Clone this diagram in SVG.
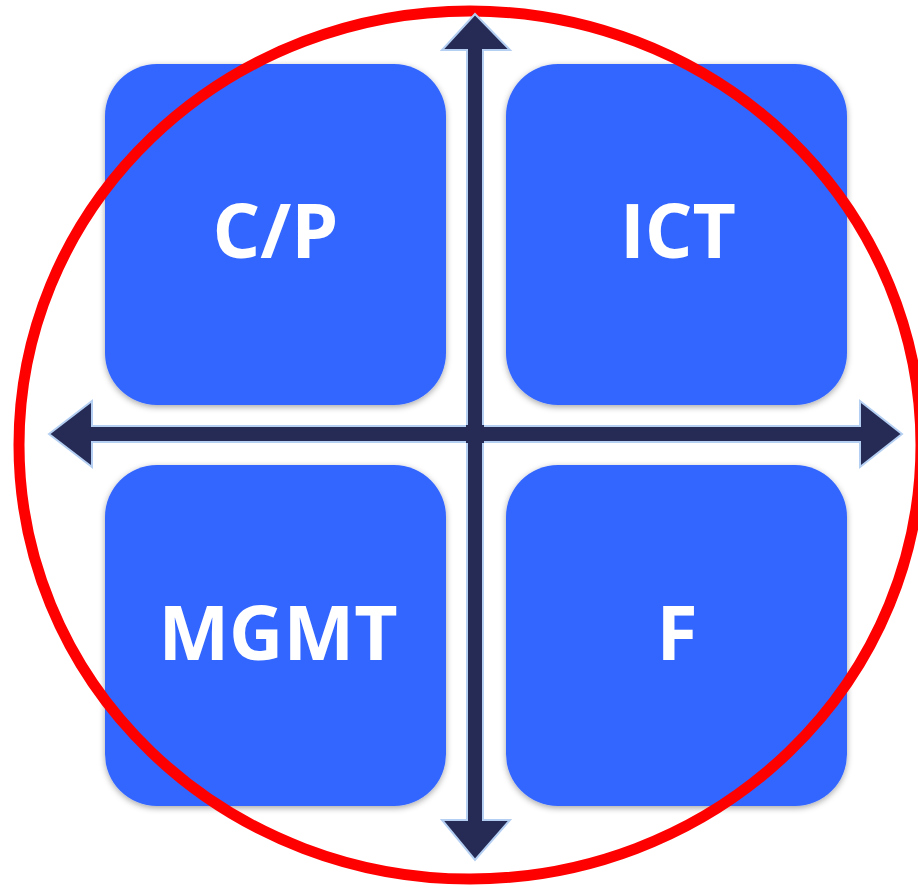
<svg xmlns="http://www.w3.org/2000/svg" width="918" height="888" viewBox="0 0 918 888">
  <style>
    .box { fill: #3366FF; filter: url(#shadow); }
    .label { fill: #FFFFFF; font-family: "Open Sans", "Liberation Sans", sans-serif; font-weight: bold; font-size: 75px; text-anchor: middle; }
    .ring { fill: none; stroke: #FF0000; stroke-width: 11; }
    .axis { fill: #262B55; stroke: #B4CFF2; stroke-width: 2; stroke-linejoin: miter; }
    .axis-fill { fill: #262B55; }
  </style>
  <defs>
    <filter id="shadow" x="-10%" y="-10%" width="120%" height="120%">
      <feDropShadow dx="0" dy="2" stdDeviation="3" flood-color="#000000" flood-opacity="0.35"/>
    </filter>
  </defs>
  <rect width="918" height="888" fill="#FFFFFF"/>

  <g id="node-cp">
    <rect class="box" x="105" y="64" width="341" height="341" rx="52" ry="52"/>
    <text class="label" x="275.5" y="258">C/P</text>
  </g>
  <g id="node-ict">
    <rect class="box" x="506" y="64" width="341" height="341" rx="52" ry="52"/>
    <text class="label" x="678" y="258">ICT</text>
  </g>
  <g id="node-mgmt">
    <rect class="box" x="105" y="465" width="341" height="341" rx="52" ry="52"/>
    <text class="label" x="278" y="660">MGMT</text>
  </g>
  <g id="node-f">
    <rect class="box" x="506" y="465" width="341" height="341" rx="52" ry="52"/>
    <text class="label" x="677" y="660">F</text>
  </g>

  <g id="boundary">
    <ellipse class="ring" cx="470" cy="445" rx="451" ry="434"/>
  </g>

  <g id="connectors">
    <!-- vertical double-headed axis -->
    <polygon class="axis" points="475,14 510,50 483,50 483,820 510,820 475,860 442,820 467,820 467,50 442,50"/>
    <!-- horizontal double-headed axis -->
    <polygon class="axis" points="49,434 92,401 92,426 860,426 860,401 902,434 860,467 860,442 92,442 92,467"/>
    <!-- solid crossing where the axes overlap -->
    <rect class="axis-fill" x="466" y="425" width="18" height="18"/>
  </g>
</svg>
